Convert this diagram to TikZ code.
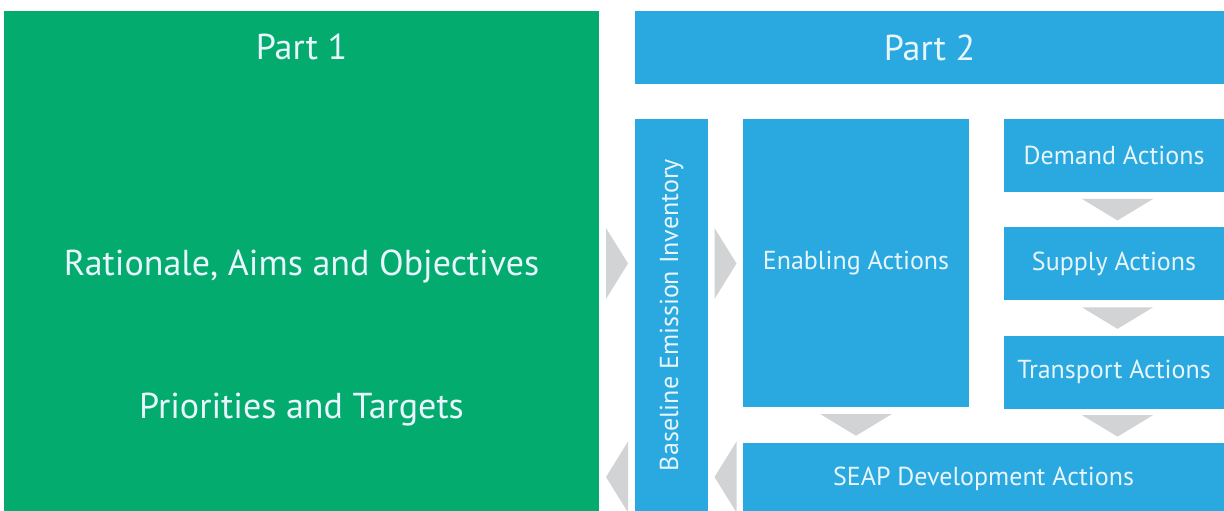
\documentclass[tikz,border=0pt]{standalone}
\usepackage{fontspec}
\setmainfont{PT Sans}
\usetikzlibrary{positioning}
\usetikzlibrary{calc}

\definecolor{partgreen}{RGB}{3,171,111}
\definecolor{partblue}{RGB}{41,169,224}
\definecolor{tipgrey}{RGB}{209,211,212}
\definecolor{textlight}{RGB}{232,245,251}

\tikzset{
  box/.style={fill=partblue,inner sep=0pt,text=textlight,font=\fontsize{26}{30}\selectfont},
  bigtext/.style={text=textlight,font=\fontsize{36}{40}\selectfont},
  tip/.style={fill=tipgrey}
}

\begin{document}
\begin{tikzpicture}[x=1pt,y=1pt]
  \useasboundingbox (0,0) rectangle (1224,511);

  \node [fill=partgreen,minimum width=595pt,minimum height=500pt,inner sep=0pt] (part1) at (301.5,250) {};
  \node [bigtext,anchor=base] (p1title)   at (301.5,451) {Part 1};
  \node [bigtext,anchor=base] (rationale) at (301.5,235) {Rationale, Aims and Objectives};
  \node [bigtext,anchor=base] (targets)   at (301.5,92)  {Priorities and Targets};

  \node [box,bigtext,minimum width=589pt,minimum height=73pt]  (part2)     at (929.5,463.5) {Part 2};
  \node [box,minimum width=73pt,minimum height=392pt]          (bei)       at (671.5,196)   {\rotatebox{90}{Baseline Emission Inventory}};
  \node [box,minimum width=226pt,minimum height=288pt]         (enabling)  at (856,248)     {Enabling Actions};
  \node [box,minimum width=220pt,minimum height=73pt]          (demand)    at (1114,355.5)  {Demand Actions};
  \node [box,minimum width=220pt,minimum height=73pt,below=35pt of demand] (supply)    {Supply Actions};
  \node [box,minimum width=220pt,minimum height=73pt,below=35pt of supply] (transport) {Transport Actions};
  \node [box,minimum width=481pt,minimum height=72pt]          (seap)      at (983.5,32)    {SEAP Development Actions};

  % grey tips between the boxes
  \foreach \a/\b/\dx in {demand/supply/3.5,supply/transport/3.5,transport/seap/3.5,enabling/seap/0} {
    \coordinate (m) at ($(\a.south)!.5!(\a.south |- \b.north)+(\dx,0)$);
    \fill [tip] ($(m)+(-35.5,10.75)$) -- ($(m)+(35.5,10.75)$) -- ($(m)+(0,-10.75)$) -- cycle;
  }
  \foreach \a/\b in {part1/bei,bei/enabling} {
    \coordinate (m) at ($(\a.east |- 0,247.5)!.5!(\b.west |- 0,247.5)$);
    \fill [tip] ($(m)+(-11,35.5)$) -- ($(m)+(-11,-35.5)$) -- ($(m)+(11,0)$) -- cycle;
  }
  \foreach \a/\b in {part1/bei,bei/seap} {
    \coordinate (m) at ($(\a.east |- 0,34)!.5!(\b.west |- 0,34)$);
    \fill [tip] ($(m)+(11,35.5)$) -- ($(m)+(11,-35.5)$) -- ($(m)+(-11,0)$) -- cycle;
  }
\end{tikzpicture}
\end{document}
